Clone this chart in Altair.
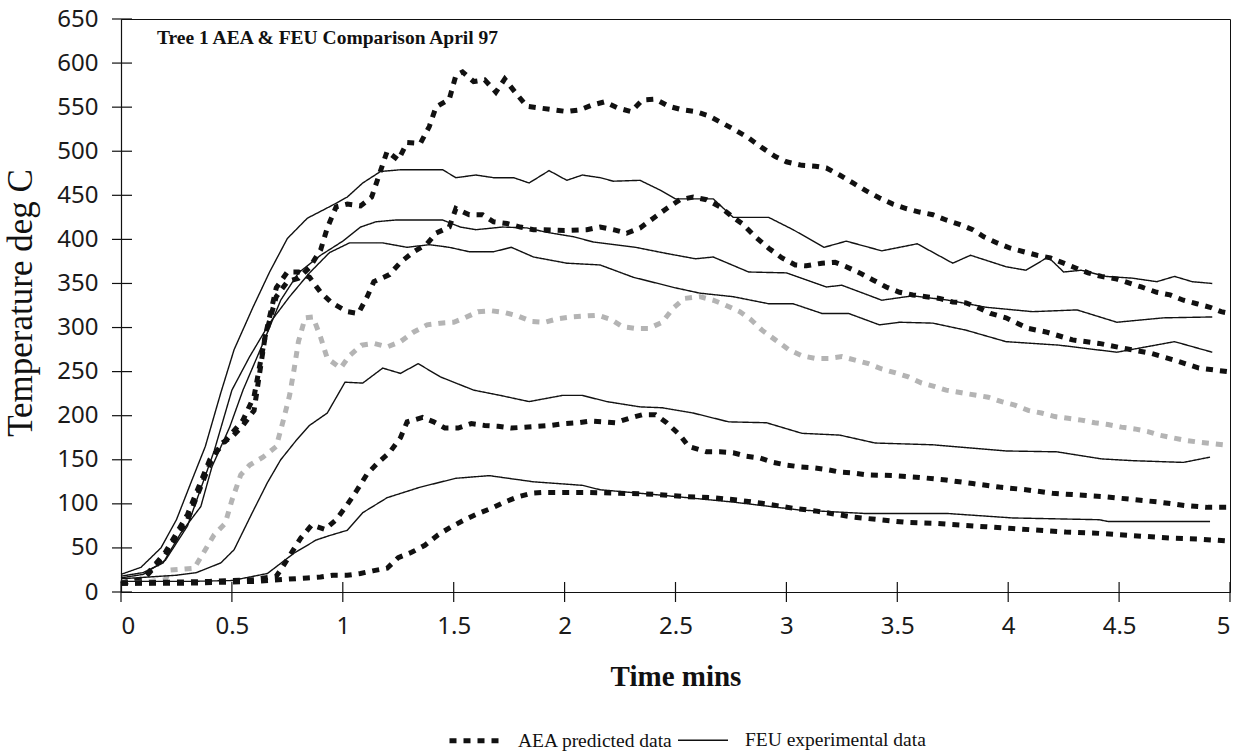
import altair as alt
import pandas as pd

# ---------------- data ----------------
X_TICKS = [0, 0.5, 1, 1.5, 2, 2.5, 3, 3.5, 4, 4.5, 5]
Y_TICKS = list(range(0, 651, 50))

AEA_1 = [(0,10),(0.1,15),(0.2,45),(0.3,88),(0.4,150),(0.5,180),(0.55,195),(0.6,222),(0.65,290),(0.7,335),
         (0.75,352),(0.8,356),(0.85,368),(0.9,388),(0.93,413),(0.97,437),(1.02,440),(1.08,438),(1.13,448),
         (1.2,500),(1.25,490),(1.29,510),(1.35,509),(1.39,528),(1.42,550),(1.48,559),(1.51,586),(1.54,590),
         (1.59,579),(1.64,581),(1.69,567),(1.73,582),(1.78,566),(1.83,551),(1.89,549),(1.95,547),(2.01,545),
         (2.07,547),(2.12,552),(2.18,556),(2.24,549),(2.30,545),(2.35,558),(2.41,559),(2.47,551),(2.53,547),
         (2.59,545),(2.65,540),(2.71,532),(2.77,524),(2.83,515),(2.89,504),(2.95,494),(3.0,488),(3.07,484),
         (3.13,483),(3.18,481),(3.24,473),(3.30,464),(3.36,455),(3.42,447),(3.48,440),(3.54,435),(3.60,431),
         (3.66,428),(3.72,422),(3.78,417),(3.84,411),(3.89,403),(3.95,396),(4.01,390),(4.07,386),(4.13,382),
         (4.19,379),(4.25,373),(4.31,367),(4.36,362),(4.42,358),(4.49,355),(4.55,350),(4.60,346),(4.67,340),
         (4.73,337),(4.79,331),(4.85,327),(4.91,323),(4.96,318),(5.0,316)]

AEA_2 = [(0,10),(0.1,14),(0.2,42),(0.3,82),(0.4,145),(0.45,168),(0.5,176),(0.55,189),(0.6,206),(0.62,240),
         (0.65,290),(0.7,345),(0.75,363),(0.8,363),(0.85,357),(0.9,340),(0.95,328),(1.02,318),(1.07,316),
         (1.11,335),(1.14,352),(1.21,360),(1.26,374),(1.32,386),(1.38,395),(1.42,407),(1.48,414),(1.51,435),
         (1.57,428),(1.63,428),(1.68,420),(1.74,418),(1.80,414),(1.86,411),(1.90,411),(2.0,410),(2.1,411),
         (2.16,414),(2.22,411),(2.28,407),(2.34,413),(2.40,424),(2.46,435),(2.52,445),(2.58,448),(2.64,445),
         (2.70,437),(2.76,425),(2.80,418),(2.86,403),(2.92,390),(2.98,379),(3.04,371),(3.09,370),(3.16,373),
         (3.22,374),(3.27,369),(3.33,362),(3.39,354),(3.45,346),(3.51,340),(3.57,337),(3.63,335),(3.69,333),
         (3.75,329),(3.81,328),(3.87,322),(3.92,316),(3.99,311),(4.09,299),(4.17,295),(4.29,286),(4.41,282),
         (4.51,277),(4.64,271),(4.75,263),(4.86,254),(4.99,250)]

AEA_3 = [(0,10),(0.1,11),(0.2,14),(0.22,25),(0.33,27),(0.38,48),(0.42,65),(0.47,78),(0.50,104),(0.54,133),
         (0.58,144),(0.64,153),(0.70,165),(0.73,193),(0.76,223),(0.78,252),(0.80,284),(0.83,311),(0.865,312),
         (0.90,289),(0.93,265),(0.99,254),(1.03,268),(1.085,280),(1.14,282),(1.20,278),(1.26,284),(1.32,295),
         (1.38,303),(1.44,305),(1.50,306),(1.55,311),(1.61,318),(1.67,319),(1.73,317),(1.79,313),(1.85,307),
         (1.91,306),(1.97,310),(2.03,312),(2.09,313),(2.15,314),(2.21,309),(2.26,301),(2.32,299),(2.38,299),
         (2.44,306),(2.49,322),(2.54,333),(2.61,335),(2.67,331),(2.72,326),(2.79,318),(2.84,309),(2.89,297),
         (2.95,286),(3.01,275),(3.07,268),(3.13,265),(3.19,265),(3.25,267),(3.31,263),(3.37,259),(3.43,253),
         (3.50,248),(3.55,244),(3.61,237),(3.67,233),(3.72,229),(3.79,226),(3.86,223),(3.91,221),(3.97,216),
         (4.03,212),(4.09,206),(4.15,203),(4.21,199),(4.27,197),(4.33,195),(4.39,192),(4.45,190),(4.51,187),
         (4.57,185),(4.63,182),(4.68,178),(4.74,175),(4.80,172),(4.86,170),(4.97,167)]

AEA_4 = [(0,10),(0.2,11),(0.4,12),(0.6,14),(0.7,18),(0.72,25),(0.81,61),(0.86,76),(0.92,71),(0.97,82),
         (1.02,99),(1.06,114),(1.11,134),(1.16,147),(1.21,158),(1.26,175),(1.29,193),(1.36,198),(1.41,193),
         (1.46,186),(1.52,186),(1.58,191),(1.64,189),(1.70,188),(1.76,186),(1.82,187),(1.88,188),(1.94,189),
         (2.0,191),(2.06,192),(2.12,194),(2.18,193),(2.23,192),(2.29,197),(2.35,201),(2.41,201),(2.46,192),
         (2.52,178),(2.56,165),(2.64,159),(2.70,159),(2.76,158),(2.82,154),(2.88,152),(2.94,147),(3.0,144),
         (3.06,142),(3.12,141),(3.18,139),(3.24,136),(3.30,135),(3.36,133),(3.48,132),(3.60,130),(3.72,127),
         (3.84,123),(3.96,119),(4.08,116),(4.20,112),(4.32,110),(4.44,108),(4.56,105),(4.68,102),(4.80,98),
         (4.90,96),(5.0,96)]

AEA_5 = [(0,10),(0.3,10),(0.6,12),(0.84,16),(0.90,17),(0.955,19),(1.02,19),(1.08,21),(1.135,24),(1.20,27),
         (1.25,39),(1.31,45),(1.37,53),(1.43,65),(1.49,74),(1.55,82),(1.61,89),(1.67,95),(1.73,102),(1.79,108),
         (1.85,112),(1.91,113),(2.09,113),(2.25,112),(2.40,111),(2.55,108),(2.67,107),(2.79,104),(2.91,100),
         (3.03,95),(3.13,92),(3.30,85),(3.42,82),(3.54,79),(3.66,78),(3.78,76),(3.90,74),(4.02,72),(4.14,70),
         (4.26,68),(4.38,67),(4.50,65),(4.62,63),(4.74,61),(4.86,60),(4.98,58)]

FEU_1 = [(0,20),(0.09,28),(0.18,50),(0.25,82),(0.32,127),(0.38,165),(0.45,226),(0.51,275),(0.595,323),
         (0.67,363),(0.75,401),(0.84,424),(0.955,439),(1.02,448),(1.09,464),(1.17,477),(1.26,479),(1.35,479),
         (1.45,479),(1.51,470),(1.60,473),(1.68,470),(1.77,470),(1.84,464),(1.93,478),(2.01,467),(2.08,473),
         (2.16,470),(2.22,466),(2.34,467),(2.43,456),(2.50,446),(2.67,446),(2.76,425),(2.92,425),(3.03,411),
         (3.17,391),(3.27,398),(3.43,387),(3.59,395),(3.75,373),(3.83,382),(3.99,369),(4.08,365),(4.18,380),
         (4.25,363),(4.33,365),(4.44,358),(4.56,356),(4.67,352),(4.75,358),(4.83,352),(4.92,350)]

FEU_2 = [(0,18),(0.1,22),(0.19,33),(0.27,67),(0.36,97),(0.41,142),(0.49,187),(0.55,229),(0.64,282),
         (0.72,331),(0.8,362),(0.9,382),(1.0,398),(1.08,414),(1.15,420),(1.24,422),(1.36,422),(1.45,422),
         (1.53,414),(1.60,411),(1.72,414),(1.83,413),(1.92,408),(2.04,403),(2.13,397),(2.32,391),(2.46,384),
         (2.59,378),(2.67,380),(2.83,363),(3.0,362),(3.18,346),(3.25,348),(3.43,331),(3.57,336),(3.73,331),
         (3.90,323),(4.11,318),(4.31,320),(4.49,306),(4.70,311),(4.92,312)]

FEU_3 = [(0,16),(0.1,20),(0.2,36),(0.3,75),(0.42,160),(0.50,229),(0.58,267),(0.67,305),(0.76,335),
         (0.85,362),(0.94,385),(1.03,396),(1.08,396),(1.18,396),(1.29,391),(1.39,394),(1.48,391),(1.57,386),
         (1.68,386),(1.76,391),(1.86,380),(2.01,373),(2.16,371),(2.31,357),(2.50,345),(2.61,339),(2.76,335),
         (2.92,327),(3.03,327),(3.16,316),(3.28,316),(3.42,303),(3.51,306),(3.66,305),(3.81,297),(3.99,284),
         (4.23,280),(4.49,272),(4.75,284),(4.92,272)]

FEU_4 = [(0,15),(0.25,19),(0.34,22),(0.45,33),(0.51,48),(0.59,89),(0.66,124),(0.72,150),(0.79,172),
         (0.85,189),(0.93,203),(1.01,238),(1.09,237),(1.18,254),(1.26,248),(1.34,259),(1.44,244),(1.59,229),
         (1.71,223),(1.84,216),(1.99,223),(2.08,223),(2.19,216),(2.34,210),(2.44,209),(2.58,203),(2.74,193),
         (2.91,192),(3.07,180),(3.24,178),(3.40,169),(3.66,167),(3.99,160),(4.22,159),(4.42,151),(4.56,149),
         (4.79,147),(4.91,153)]

FEU_5 = [(0,12),(0.3,12),(0.5,13),(0.66,21),(0.78,44),(0.88,59),(0.94,64),(1.02,70),(1.09,90),(1.20,107),
         (1.35,119),(1.51,129),(1.66,132),(1.86,125),(2.08,121),(2.16,116),(2.43,110),(2.76,102),(3.06,93),
         (3.36,89),(3.73,89),(4.02,84),(4.41,82),(4.45,80),(4.91,80)]

TYPE_AEA = "AEA predicted data"
TYPE_FEU = "FEU experimental data"
CHART_NOTE = "Tree 1 AEA & FEU Comparison April 97"

SERIES = [
    ("AEA_1", TYPE_AEA, AEA_1), ("AEA_2", TYPE_AEA, AEA_2), ("AEA_3", TYPE_AEA, AEA_3),
    ("AEA_4", TYPE_AEA, AEA_4), ("AEA_5", TYPE_AEA, AEA_5),
    ("FEU_1", TYPE_FEU, FEU_1), ("FEU_2", TYPE_FEU, FEU_2), ("FEU_3", TYPE_FEU, FEU_3),
    ("FEU_4", TYPE_FEU, FEU_4), ("FEU_5", TYPE_FEU, FEU_5),
]

rows = []
for name, typ, pts in SERIES:
    for i, (t, v) in enumerate(pts):
        rows.append({"curve": name, "type": typ, "t": t, "v": v, "order": i})
df = pd.DataFrame(rows)

W, H = 1109, 573

xscale = alt.Scale(domain=[0, 5], nice=False, zero=False)
yscale = alt.Scale(domain=[0, 650], nice=False)

x_axis = alt.Axis(values=X_TICKS, format="~g", ticks=False, grid=False,
                  title="Time mins", titleY=93, titleBaseline="alphabetic")
y_axis = alt.Axis(values=Y_TICKS, ticks=False, grid=False,
                  title="Temperature deg C", titleX=-90, titleY=H / 2 - 3,
                  titleAlign="center", titleBaseline="alphabetic", titleAngle=-90)

lines = alt.Chart(df).mark_line(strokeCap="butt", clip=False).encode(
    x=alt.X("t:Q", scale=xscale, axis=x_axis),
    y=alt.Y("v:Q", scale=yscale, axis=y_axis),
    detail="curve:N",
    order="order:Q",
    strokeDash=alt.StrokeDash("type:N",
                              scale=alt.Scale(domain=[TYPE_AEA, TYPE_FEU], range=[[7, 7], [1, 0]]),
                              legend=alt.Legend(title=None)),
    strokeWidth=alt.StrokeWidth("type:N",
                                scale=alt.Scale(domain=[TYPE_AEA, TYPE_FEU], range=[5, 1.4]),
                                legend=alt.Legend(title=None)),
    color=alt.condition(alt.datum.curve == "AEA_3", alt.value("#b4b4b4"), alt.value("#111111")),
)

xt = alt.Chart(pd.DataFrame({"t": X_TICKS})).mark_rule(color="#111111", strokeWidth=1.2).encode(
    x=alt.X("t:Q", scale=xscale, axis=x_axis),
    y=alt.value(H - 10), y2=alt.value(H + 10),
)
yt = alt.Chart(pd.DataFrame({"v": Y_TICKS})).mark_rule(color="#111111", strokeWidth=1.2).encode(
    y=alt.Y("v:Q", scale=yscale, axis=y_axis),
    x=alt.value(-9), x2=alt.value(11),
)
note = alt.Chart(pd.DataFrame({"s": [CHART_NOTE]})).mark_text(
    align="left", baseline="alphabetic", font="Liberation Serif", fontWeight="bold",
    fontSize=19.5, color="#111111"
).encode(x=alt.value(36), y=alt.value(25), text="s:N")

chart = alt.layer(lines, xt, yt, note).properties(
    width=W, height=H,
    autosize=alt.AutoSizeParams(type="none"),
    padding={"left": 121, "top": 19, "right": 13, "bottom": 161},
).configure_view(
    stroke="#111111", strokeWidth=1
).configure_axis(
    domainColor="#111111", domainWidth=1.2,
    labelFont="Noto Sans", labelFontSize=24, labelColor="#1a1a1a",
    titleFont="Liberation Serif", titleColor="#111111", titleFontWeight="normal",
).configure_axisX(
    labelPadding=22, titleFontWeight="bold", titleFontSize=29,
).configure_axisY(
    labelPadding=23, titleFontSize=35,
).configure_legend(
    orient="none", legendX=326, legendY=694, direction="horizontal",
    symbolType="stroke", symbolSize=2500, symbolStrokeColor="#111111",
    labelFont="Liberation Serif", labelFontSize=19.5, labelColor="#111111",
    labelOffset=16, columnPadding=2, labelLimit=0,
)

chart.save("out.html", embed_options={"renderer": "svg", "actions": False})
